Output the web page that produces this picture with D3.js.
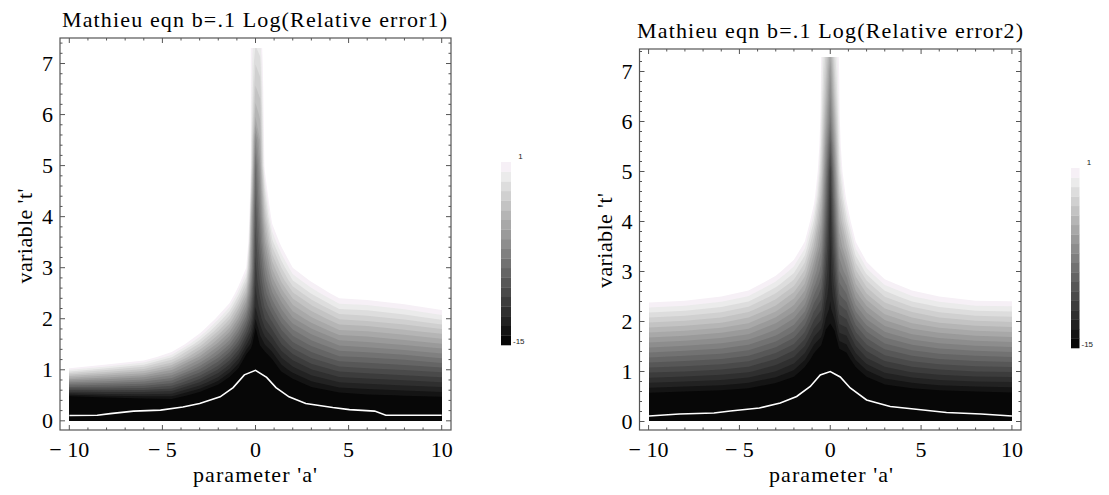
<!DOCTYPE html>
<html><head><meta charset="utf-8">
<script src="https://cdn.jsdelivr.net/npm/d3@7"></script>
<style>body{margin:0;background:#fff}svg{display:block}</style>
</head><body>
<svg id="c" width="1109" height="495"></svg>
<script>
// ---------------- data ----------------
const titles = ["Mathieu eqn b=.1 Log(Relative error1)", "Mathieu eqn b=.1 Log(Relative error2)"];
const xLabel = "parameter 'a'";
const yLabel = "variable 't'";
const xMajorTicks = [-10, -5, 0, 5, 10];
const yMajorTicks = [0, 1, 2, 3, 4, 5, 6, 7];
const colorbarLabels = ["1", "-15"];

// sample positions of the value grid
const gridA = [-10,-8,-6,-4.5,-3,-2,-1.4,-0.9,-0.5,-0.25,0,0.25,0.5,0.9,1.4,2,3,4.5,6,8,10];
const gridT = [0,0.25,0.5,0.75,1,1.25,1.5,1.75,2,2.25,2.5,2.75,3,3.5,4,4.5,5,5.5,6,6.5,7,7.3];

// Log(relative error 1): one column per gridA value, listed along gridT (values above 1 are off-scale)
const field1 = [
 [-25,-20.5,-13.6,-6.7,0.2,7.1,14,20,20,20,20,20,20,20,20,20,20,20,20,20,20,20],
 [-24.9,-19,-13.1,-7.2,-1.4,4.5,10.4,16.3,20,20,20,20,20,20,20,20,20,20,20,20,20,20],
 [-23.2,-18.1,-12.9,-7.8,-2.7,2.4,7.6,12.7,17.8,20,20,20,20,20,20,20,20,20,20,20,20,20],
 [-21.3,-17.1,-13,-8.9,-4.8,-0.6,3.5,7.6,11.7,15.9,20,20,20,20,20,20,20,20,20,20,20,20],
 [-21.6,-18.3,-15,-11.7,-8.4,-5.1,-1.8,1.5,4.8,8.1,11.4,14.7,18,20,20,20,20,20,20,20,20,20],
 [-22.1,-19.3,-16.5,-13.7,-10.9,-8.1,-5.3,-2.5,0.3,3.1,5.9,8.7,11.5,17.1,20,20,20,20,20,20,20,20],
 [-23.2,-20.6,-17.9,-15.3,-12.7,-10.1,-7.4,-4.8,-2.2,0.4,3.1,5.7,8.3,13.6,18.8,20,20,20,20,20,20,20],
 [-23.9,-21.6,-19.2,-16.9,-14.5,-12.2,-9.8,-7.5,-5.1,-2.8,-0.4,1.9,4.3,9,13.7,18.4,20,20,20,20,20,20],
 [-25,-23.4,-21.2,-19,-16.8,-14.6,-12.3,-10.1,-7.9,-5.7,-3.4,-1.2,1,5.4,9.9,14.3,18.8,20,20,20,20,20],
 [-25,-24,-22,-20,-17.5,-15.5,-13.5,-11.8,-10.2,-8.8,-7.5,-6.3,-5.2,-4.2,-3.2,-1.3,0.3,0.5,0.6,0.7,0.8,0.8],
 [-25,-24,-23,-21,-19,-17,-15.5,-14.5,-13.3,-12.4,-11.9,-11.5,-11.1,-10.4,-9.7,-9,-8.3,-6.5,-3.8,-2.5,-1.5,-0.8],
 [-25,-23.5,-22,-20,-17.5,-15.5,-14,-13,-12,-11.2,-10.5,-9.8,-9.2,-8,-7,-6,-5,-4,-3,-2,-1,-0.3],
 [-25,-22.5,-20.5,-18.5,-16.3,-14.8,-13.3,-12,-10.8,-9.8,-8.8,-7.9,-7,-5,-3,-1,1.5,2,2.3,2.5,2.6,2.7],
 [-21,-19.6,-18.1,-16.7,-15.3,-13.9,-12.4,-11,-9.6,-8.1,-6.7,-5.3,-3.9,-1,1.8,4.7,7.6,10.4,13.3,16.1,19,20],
 [-20.2,-18.6,-17.1,-15.5,-13.9,-12.4,-10.8,-9.3,-7.7,-6.2,-4.6,-3,-1.5,1.6,4.8,7.9,11,14.1,17.3,20,20,20],
 [-19.9,-18.1,-16.4,-14.7,-12.9,-11.2,-9.4,-7.7,-5.9,-4.2,-2.5,-0.7,1,4.5,8,11.4,14.9,18.4,20,20,20,20],
 [-19.1,-17.2,-15.4,-13.5,-11.7,-9.8,-8,-6.2,-4.3,-2.5,-0.6,1.2,3.1,6.8,10.4,14.1,17.8,20,20,20,20,20],
 [-18.7,-16.6,-14.6,-12.5,-10.5,-8.4,-6.4,-4.3,-2.3,-0.2,1.8,3.9,5.9,10,14.1,18.2,20,20,20,20,20,20],
 [-18.4,-16.4,-14.3,-12.3,-10.2,-8.2,-6.1,-4.1,-2,0,2.1,4.1,6.2,10.3,14.4,18.5,20,20,20,20,20,20],
 [-18.4,-16.3,-14.1,-12,-9.9,-7.8,-5.6,-3.5,-1.4,0.7,2.9,5,7.1,11.4,15.6,19.9,20,20,20,20,20,20],
 [-18.4,-16.2,-13.9,-11.7,-9.5,-7.2,-5,-2.8,-0.5,1.7,4,6.2,8.4,12.9,17.3,20,20,20,20,20,20,20]
];

// Log(relative error 2)
const field2 = [
 [-19,-16.9,-14.8,-12.7,-10.6,-8.5,-6.4,-4.3,-2.2,-0.1,2,4.1,6.2,10.4,14.6,18.8,20,20,20,20,20,20],
 [-19.2,-17.1,-15,-12.9,-10.8,-8.8,-6.7,-4.6,-2.5,-0.4,1.7,3.7,5.8,10,14.2,18.3,20,20,20,20,20,20],
 [-19.2,-17.2,-15.2,-13.1,-11.1,-9.1,-7.1,-5.1,-3,-1,1,3,5,9.1,13.1,17.2,20,20,20,20,20,20],
 [-19.3,-17.3,-15.4,-13.5,-11.5,-9.6,-7.7,-5.7,-3.8,-1.9,0.1,2,3.9,7.8,11.7,15.5,19.4,20,20,20,20,20],
 [-19.6,-17.8,-16.1,-14.3,-12.5,-10.8,-9,-7.2,-5.5,-3.7,-2,-0.2,1.6,5,8.6,12.1,15.6,19.2,20,20,20,20],
 [-20,-18.4,-16.8,-15.1,-13.5,-11.9,-10.3,-8.6,-7,-5.4,-3.8,-2.1,-0.5,2.7,6,9.2,12.5,15.7,19,20,20,20],
 [-20.7,-19.2,-17.7,-16.2,-14.7,-13.2,-11.7,-10.2,-8.7,-7.1,-5.6,-4.1,-2.6,0.4,3.4,6.4,9.5,12.5,15.5,18.5,20,20],
 [-21.1,-19.8,-18.6,-17.3,-16,-14.7,-13.5,-12.2,-10.9,-9.7,-8.4,-7.1,-5.9,-3.3,-0.8,1.8,4.3,6.8,9.4,11.9,14.5,16],
 [-25,-24,-22,-20,-17.5,-15.8,-14.3,-13,-11.8,-10.7,-9.7,-8.8,-7.9,-6.3,-4.8,-3.3,-2,-1,-0.3,0.2,0.5,0.7],
 [-25,-24.5,-23,-21,-19,-17,-15.5,-14.5,-13.5,-12.8,-12.1,-11.5,-10.9,-9.8,-8.8,-7.8,-6.8,-5.6,-4.3,-3.2,-2.3,-1.8],
 [-25,-25,-24,-22.5,-20.5,-18.5,-16.5,-15,-14,-13.5,-13.2,-13,-12.9,-12.6,-12.3,-11.8,-11.2,-9.5,-7.7,-6.6,-5.6,-4.6],
 [-25,-24.5,-23,-21,-19,-17,-15.5,-14.4,-13.4,-12.6,-11.9,-11.2,-10.6,-9.5,-8.4,-7.3,-6.2,-5,-3.8,-2.6,-1.6,-1],
 [-25,-23.5,-21.5,-19.5,-17,-15.3,-13.9,-12.6,-11.4,-10.3,-9.3,-8.4,-7.5,-5.8,-4.2,-2.7,-1.3,-0.4,0.3,0.8,1.1,1.3],
 [-21,-19.8,-18.5,-17.3,-16,-14.8,-13.5,-12.3,-11,-9.8,-8.5,-7.3,-6,-3.5,-1,1.5,4,6.5,9,11.5,14,15.5],
 [-20.7,-19.2,-17.7,-16.2,-14.7,-13.2,-11.7,-10.2,-8.7,-7.1,-5.6,-4.1,-2.6,0.4,3.4,6.4,9.5,12.5,15.5,18.5,20,20],
 [-20.1,-18.4,-16.8,-15.1,-13.5,-11.8,-10.2,-8.6,-6.9,-5.3,-3.6,-2,-0.3,3,6.3,9.5,12.8,16.1,19.4,20,20,20],
 [-19.5,-17.7,-15.9,-14.1,-12.3,-10.5,-8.7,-6.9,-5.1,-3.3,-1.5,0.3,2.1,5.7,9.3,12.9,16.5,20,20,20,20,20],
 [-19.3,-17.3,-15.4,-13.5,-11.5,-9.6,-7.7,-5.7,-3.8,-1.9,0.1,2,3.9,7.8,11.7,15.5,19.4,20,20,20,20,20],
 [-19.2,-17.2,-15.2,-13.1,-11.1,-9.1,-7.1,-5.1,-3,-1,1,3,5,9.1,13.1,17.2,20,20,20,20,20,20],
 [-19.2,-17.1,-15,-12.9,-10.8,-8.8,-6.7,-4.6,-2.5,-0.4,1.7,3.7,5.8,10,14.2,18.3,20,20,20,20,20,20],
 [-19,-16.9,-14.8,-12.8,-10.7,-8.6,-6.5,-4.4,-2.3,-0.3,1.8,3.9,6,10.2,14.3,18.5,20,20,20,20,20,20]
];

// white curve (a, t)
const curve1 = [[-10,0.105],[-8.5,0.11],[-7.8,0.14],[-6.55,0.19],[-5.1,0.21],[-3.9,0.27],[-3,0.34],[-1.9,0.47],[-1.2,0.65],[-0.6,0.9],[0,0.99],[0.6,0.85],[1.1,0.65],[1.8,0.47],[2.7,0.34],[4.15,0.26],[5.05,0.22],[6.4,0.19],[7,0.11],[10,0.11]];
const curve2 = [[-10,0.11],[-8.3,0.15],[-6.4,0.17],[-5.5,0.21],[-3.9,0.27],[-2.75,0.37],[-1.85,0.5],[-1.1,0.7],[-0.55,0.93],[0,1.0],[0.55,0.89],[1.1,0.67],[2,0.43],[3.3,0.3],[4.6,0.25],[6.4,0.18],[8.3,0.15],[10,0.11]];

// ---------------- drawing ----------------
const svg = d3.select('#c');
svg.append('rect').attr('width',1109).attr('height',495).attr('fill','#fff');
const SERIF = "'Liberation Serif','Times New Roman',Times,serif";
const cells = 19;
const bandLevels = d3.range(1, cells).map(k => -15 + 16 * k / cells);
const thresholds = [-1e6, ...bandLevels, 1];
function cellFill(k) {
  if (k === cells - 1) return 'rgb(246,240,246)';
  const g = Math.round(255 * (k + 0.5) / cells);
  return `rgb(${g},${g},${g})`;
}

const plots = [
  {id:1, field:field1, curve:curve1, title:titles[0],
   frame:{x0:60,x1:451,y0:38,y1:430}, aDom:[-10.5,10.5], tDom:[-0.18,7.5],
   titleX:254.5, titleY:27.3, titleW:385, xlabX:255, ylabY:236, ylabX:31.5,
   cbar:{x:501,w:10,y0:162,y1:345}},
  {id:2, field:field2, curve:curve2, title:titles[1],
   frame:{x0:639.5,x1:1021,y0:49,y1:430}, aDom:[-10.5,10.5], tDom:[-0.17,7.45],
   titleX:830, titleY:38.4, titleW:386, xlabX:831, ylabY:240.5, ylabX:611.5,
   cbar:{x:1071,w:8.5,y0:168,y1:348}}
];

function fitText(sel, target) {
  const w = sel.node().getComputedTextLength();
  if (w > 0) sel.attr('textLength', target).attr('lengthAdjust', 'spacing');
}

plots.forEach(p => {
  const g = svg.append('g');
  const xs = d3.scaleLinear().domain(p.aDom).range([p.frame.x0, p.frame.x1]);
  const ys = d3.scaleLinear().domain(p.tDom).range([p.frame.y1, p.frame.y0]);
  const nx = gridA.length, ny = gridT.length;
  const values = [];
  for (let j = 0; j < ny; j++) for (let i = 0; i < nx; i++) values.push(p.field[i][j]);
  // grid index -> data coordinate (extrapolates past the outer samples; the clip trims it)
  const ia = d3.scaleLinear().domain(d3.range(nx)).range(gridA);
  const it = d3.scaleLinear().domain(d3.range(ny)).range(gridT);
  const proj = d3.geoTransform({point(x, y) { this.stream.point(xs(ia(x - 0.5)), ys(it(y - 0.5))); }});
  const path = d3.geoPath(proj);

  const clipId = 'clip' + p.id;
  const cx0 = Math.round(xs(-10)), cx1 = Math.round(xs(10));
  const cy0 = Math.round(ys(7.3)), cy1 = Math.round(ys(0));
  g.append('clipPath').attr('id', clipId).append('rect')
    .attr('x', cx0).attr('y', cy0).attr('width', cx1 - cx0).attr('height', cy1 - cy0);
  const cg = g.append('g').attr('clip-path', `url(#${clipId})`);
  const cs = d3.contours().size([nx, ny]).thresholds(thresholds)(values);
  cg.selectAll('path.band').data(cs).join('path').attr('class','band')
    .attr('d', path)
    .attr('fill', (d, i) => i < cells ? cellFill(i) : '#ffffff');

  cg.append('path').datum(p.curve)
    .attr('d', d3.line().x(d => xs(d[0])).y(d => ys(d[1])))
    .attr('fill', 'none').attr('stroke', '#fff').attr('stroke-width', 1.6);

  // frame
  const f = p.frame;
  g.append('rect').attr('x', f.x0).attr('y', f.y0).attr('width', f.x1 - f.x0).attr('height', f.y1 - f.y0)
    .attr('fill', 'none').attr('stroke', '#555').attr('stroke-width', 1.2);
  const tk = g.append('g').attr('stroke', '#555').attr('stroke-width', 1);
  const xMinor = d3.range(-10, 11).filter(v => !xMajorTicks.includes(v));
  const yMinor = d3.range(1, 38).map(k => +(k * 0.2).toFixed(1)).filter(v => Math.abs(v - Math.round(v)) > 1e-6 && v < p.tDom[1]);
  [[xMajorTicks, 5], [xMinor, 2.5]].forEach(([arr, len]) => arr.forEach(v => {
    const x = xs(v);
    tk.append('line').attr('x1', x).attr('x2', x).attr('y1', f.y1).attr('y2', f.y1 - len);
    tk.append('line').attr('x1', x).attr('x2', x).attr('y1', f.y0).attr('y2', f.y0 + len);
  }));
  [[yMajorTicks, 5], [yMinor, 2.5]].forEach(([arr, len]) => arr.forEach(v => {
    const y = ys(v);
    tk.append('line').attr('x1', f.x0).attr('x2', f.x0 + len).attr('y1', y).attr('y2', y);
    tk.append('line').attr('x1', f.x1).attr('x2', f.x1 - len).attr('y1', y).attr('y2', y);
  }));

  // tick labels
  const lab = g.append('g').attr('font-family', SERIF).attr('font-size', 22).attr('fill', '#000');
  xMajorTicks.forEach(v => {
    lab.append('text').attr('x', xs(v)).attr('y', 456.7).attr('text-anchor', 'middle')
      .text(v < 0 ? '\u2212 ' + Math.abs(v) : String(v));
  });
  yMajorTicks.forEach(v => {
    lab.append('text').attr('x', f.x0 - 7).attr('y', ys(v) + 7.5).attr('text-anchor', 'end').text(String(v));
  });

  // title and axis labels
  const t = g.append('text').attr('x', p.titleX).attr('y', p.titleY).attr('text-anchor', 'middle')
    .attr('font-family', SERIF).attr('font-size', 22).text(p.title);
  fitText(t, p.titleW);
  const xl = g.append('text').attr('x', p.xlabX).attr('y', 481.7).attr('text-anchor', 'middle')
    .attr('font-family', SERIF).attr('font-size', 22).text(xLabel);
  fitText(xl, 124);
  const yl = g.append('text').attr('transform', `translate(${p.ylabX},${p.ylabY}) rotate(-90)`)
    .attr('text-anchor', 'middle').attr('font-family', SERIF).attr('font-size', 22).text(yLabel);
  fitText(yl, 95);

  // colorbar
  const cb = p.cbar;
  const ch = (cb.y1 - cb.y0) / cells;
  g.append('g').selectAll('rect').data(d3.range(cells)).join('rect')
    .attr('x', cb.x).attr('width', cb.w)
    .attr('y', k => cb.y1 - (k + 1) * ch).attr('height', ch + 0.3)
    .attr('fill', k => cellFill(k));
  const cl = g.append('g').attr('font-family', "'Liberation Sans',Arial,sans-serif").attr('font-size', 8).attr('fill', '#222');
  cl.append('text').attr('x', cb.x + cb.w + 7.3).attr('y', cb.y0 - 3.5).text(colorbarLabels[0]);
  cl.append('text').attr('x', cb.x + cb.w + 2).attr('y', cb.y1 - 1.5).text(colorbarLabels[1]);
});
</script>
</body></html>
